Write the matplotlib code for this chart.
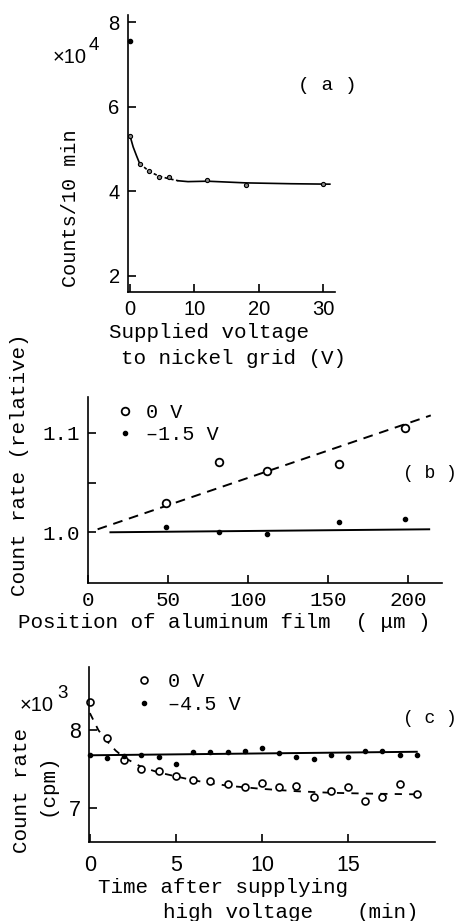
import matplotlib
matplotlib.use('Agg')
import matplotlib.pyplot as plt

W, H = 459, 921
MONO = 'Liberation Mono'
SANS = 'Liberation Sans'

# (a) counts vs. grid voltage
volt_x = [0, 1.5, 3, 4.5, 6, 12, 18, 30]
volt_counts = [5.3, 4.65, 4.47, 4.35, 4.35, 4.27, 4.15, 4.18]
outlier_x = [0]
outlier_y = [7.55]
curve_a_x = [0, 0.5, 1, 1.5, 3, 4.5, 6, 7.5, 9, 12, 18, 25, 31]
curve_a_y = [5.32, 5.05, 4.85, 4.66, 4.47, 4.36, 4.3, 4.25, 4.23, 4.24, 4.2, 4.18, 4.17]

# (b) relative count rate vs. film position
pos_x = [49, 82, 112, 157, 198]
rate_0v = [1.029, 1.071, 1.062, 1.069, 1.105]
rate_15v = [1.005, 1.000, 0.998, 1.010, 1.013]
fit_0v_x = [6, 214]
fit_0v_y = [1.003, 1.1175]
fit_15v_x = [14, 213]
fit_15v_y = [1.0, 1.003]

# (c) count rate vs. time
time_min = list(range(20))
rate_c_0v = [8.36, 7.90, 7.62, 7.50, 7.48, 7.41, 7.36, 7.35, 7.31, 7.27,
             7.33, 7.27, 7.29, 7.15, 7.22, 7.28, 7.10, 7.15, 7.31, 7.19]
rate_c_45v = [7.69, 7.65, 7.67, 7.68, 7.66, 7.57, 7.72, 7.72, 7.72, 7.74,
              7.77, 7.71, 7.66, 7.63, 7.69, 7.66, 7.73, 7.74, 7.69, 7.69]
fit_c_45v_x = [0, 19]
fit_c_45v_y = [7.68, 7.725]
curve_c_x = [0, 0.5, 1, 1.5, 2, 3, 4, 5, 6, 8, 10, 12, 14, 16, 19]
curve_c_y = [8.22, 8.0, 7.86, 7.74, 7.65, 7.53, 7.46, 7.41, 7.36, 7.29,
             7.25, 7.22, 7.2, 7.19, 7.18]


def box(l, t, r, b):
    return [l / W, 1 - b / H, (r - l) / W, (b - t) / H]


def txt(x, y, s, size=15, ha='left', va='center', rot=0, fam=MONO):
    fig.text(x / W, 1 - y / H, s, ha=ha, va=va, rotation=rot,
             fontsize=size, family=fam, color='black')


def style(ax, fam, size):
    for s in ['top', 'right']:
        ax.spines[s].set_visible(False)
    for s in ['left', 'bottom']:
        ax.spines[s].set_linewidth(1.2)
    ax.tick_params(direction='in', length=6, width=1.2, labelsize=size, pad=6)
    for lab in ax.get_xticklabels() + ax.get_yticklabels():
        lab.set_family(fam)


fig = plt.figure(figsize=(W / 100, H / 100), dpi=100)

# ---- (a)
ax1 = fig.add_axes(box(128, 15, 335, 292))
ax1.set_xlim(-0.3, 31.8)
ax1.set_ylim(1.62, 8.17)
ax1.plot(curve_a_x[:4], curve_a_y[:4], '-', color='k', lw=1.2)
ax1.plot(curve_a_x[3:8], curve_a_y[3:8], color='k', lw=1.2, dashes=(2, 1.5))
ax1.plot(curve_a_x[7:], curve_a_y[7:], '-', color='k', lw=1.2)
ax1.plot(volt_x, volt_counts, 'o', color='k', ms=3, mfc='#888888', mew=0.8)
ax1.plot(outlier_x, outlier_y, 'o', color='k', ms=3, clip_on=False)
ax1.set_xticks([0, 10, 20, 30])
ax1.set_yticks([2, 4, 6, 8])
style(ax1, SANS, 14.5)

txt(53, 63, '×10', size=14.5, va='baseline', fam=SANS)
txt(89, 50, '4', size=13.5, va='baseline', fam=SANS)
txt(298, 86, '( a )', size=14)
txt(71, 208, 'Counts/10 min', size=14.5, ha='center', rot=90)
txt(209, 333, 'Supplied voltage', ha='center')
txt(233, 358, 'to nickel grid (V)', ha='center')

# ---- (b)
ax2 = fig.add_axes(box(88, 397, 442, 583))
ax2.set_xlim(0, 221)
ax2.set_ylim(0.949, 1.136)
ax2.plot(fit_0v_x, fit_0v_y, color='k', lw=1.4, dashes=(5, 3.5))
ax2.plot(fit_15v_x, fit_15v_y, '-', color='k', lw=1.4)
h0, = ax2.plot(pos_x, rate_0v, 'o', color='k', ms=5.5, mfc='white', mew=1.3,
               label='0 V')
h1, = ax2.plot(pos_x, rate_15v, 'o', color='k', ms=3, label='–1.5 V')
ax2.set_xticks([0, 50, 100, 150, 200])
ax2.set_yticks([1.0, 1.05, 1.1])
ax2.set_yticklabels(['1.0', '', '1.1'])
style(ax2, MONO, 15)
ax2.legend(handles=[h0, h1], loc='upper left', frameon=False,
           bbox_to_anchor=(119 / W, 1 - 403 / H), bbox_transform=fig.transFigure,
           handlelength=0.6, handletextpad=0.75, labelspacing=0.15,
           borderpad=0, borderaxespad=0, prop={'family': MONO, 'size': 14.5})

txt(403, 473, '( b )', size=13)
txt(20, 465, 'Count rate (relative)', ha='center', rot=90)
txt(18, 623, 'Position of aluminum film  ( μm )')

# ---- (c)
ax3 = fig.add_axes(box(89, 667, 435, 842))
ax3.set_xlim(-0.05, 20.06)
ax3.set_ylim(6.57, 8.81)
ax3.plot(curve_c_x, curve_c_y, color='k', lw=1.3, dashes=(4, 4))
ax3.plot(fit_c_45v_x, fit_c_45v_y, '-', color='k', lw=1.4)
g0, = ax3.plot(time_min, rate_c_0v, 'o', color='k', ms=5, mfc='white', mew=1.2,
               label='0 V', clip_on=False)
g1, = ax3.plot(time_min, rate_c_45v, 'o', color='k', ms=3, label='–4.5 V',
               clip_on=False)
ax3.set_xticks([0, 5, 10, 15])
ax3.set_yticks([7, 8])
style(ax3, SANS, 15.5)
ax3.tick_params(axis='x', pad=9)
ax3.legend(handles=[g0, g1], loc='upper left', frameon=False,
           bbox_to_anchor=(138 / W, 1 - 672 / H), bbox_transform=fig.transFigure,
           handlelength=0.6, handletextpad=0.9, labelspacing=0.2,
           borderpad=0, borderaxespad=0, prop={'family': MONO, 'size': 14.5})

txt(20, 711, '×10', size=14.5, va='baseline', fam=SANS)
txt(57, 698, '3', size=13.5, va='baseline', fam=SANS)
txt(403, 718, '( c )', size=13)
txt(22, 790, 'Count rate', ha='center', rot=90)
txt(47, 785, '(cpm)', ha='center', rot=90)
txt(98, 887, 'Time after supplying')
txt(163, 912, 'high voltage')
txt(357, 912, '(min)')

fig.savefig('out.png', dpi=100)
